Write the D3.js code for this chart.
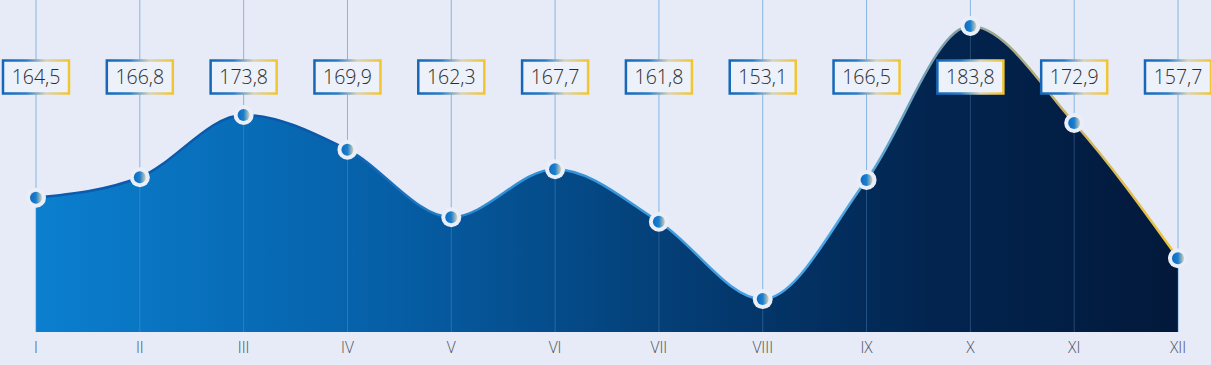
<!DOCTYPE html>
<html><head><meta charset="utf-8">
<script src="https://cdn.jsdelivr.net/npm/d3@7"></script>
<style>html,body{margin:0;padding:0;background:#e6ebf7;}svg{display:block;}</style>
</head><body>
<script>
const months = ["I","II","III","IV","V","VI","VII","VIII","IX","X","XI","XII"];
const values = [164.5,166.8,173.8,169.9,162.3,167.7,161.8,153.1,166.5,183.8,172.9,157.7];
const labels = ["164,5","166,8","173,8","169,9","162,3","167,7","161,8","153,1","166,5","183,8","172,9","157,7"];

const W = 1211, H = 365;
const svg = d3.select("body").append("svg").attr("width", W).attr("height", H);
svg.append("rect").attr("width", W).attr("height", H).attr("fill", "#e6ebf7");

const x = d3.scalePoint().domain(months).range([36, 1178]);
const y = d3.scaleLinear().domain([149.4, 183.8]).range([332, 26]);

const defs = svg.append("defs");
const ag = defs.append("linearGradient").attr("id","areaG").attr("gradientUnits","userSpaceOnUse")
  .attr("x1",36).attr("x2",1178).attr("y1",0).attr("y2",0);
[["0%","#0b7fcf"],["30%","#0660a8"],["55%","#043f77"],["78%","#022550"],["100%","#02193b"]]
  .forEach(s=>ag.append("stop").attr("offset",s[0]).attr("stop-color",s[1]));
const lg = defs.append("linearGradient").attr("id","lineG").attr("gradientUnits","userSpaceOnUse")
  .attr("x1",36).attr("x2",1178).attr("y1",0).attr("y2",0);
[["0%","#0a5cae"],["25%","#0a58a8"],["40%","#2f8fd6"],["70%","#4aa6e6"],["80%","#7f9ea8"],["90%","#c9b36a"],["100%","#f0c53a"]]
  .forEach(s=>lg.append("stop").attr("offset",s[0]).attr("stop-color",s[1]));
const bg = defs.append("linearGradient").attr("id","boxG").attr("x1","0").attr("x2","1").attr("y1","0").attr("y2","0");
[["0%","#1667b8"],["35%","#2a7cc6"],["65%","#d9d3b8"],["100%","#f2c530"]]
  .forEach(s=>bg.append("stop").attr("offset",s[0]).attr("stop-color",s[1]));
const dg = defs.append("linearGradient").attr("id","dotG").attr("x1","0").attr("x2","1").attr("y1","0").attr("y2","0");
[["0%","#0f6cc0"],["50%","#1a7fd0"],["100%","#d8d2b0"]]
  .forEach(s=>dg.append("stop").attr("offset",s[0]).attr("stop-color",s[1]));

const data = months.map((m,i)=>({m, v: values[i], l: labels[i]}));

// vertical guide lines (behind area)
svg.append("g").selectAll("line").data(data).join("line")
  .attr("x1",d=>x(d.m)).attr("x2",d=>x(d.m)).attr("y1",0).attr("y2",332)
  .attr("stroke","#86b5e2").attr("stroke-width",1);

const area = d3.area().x(d=>x(d.m)).y0(332).y1(d=>y(d.v)).curve(d3.curveMonotoneX);
const line = d3.line().x(d=>x(d.m)).y(d=>y(d.v)).curve(d3.curveMonotoneX);
svg.append("path").datum(data).attr("d",area).attr("fill","url(#areaG)");

// guide lines inside area
svg.append("g").selectAll("line").data(data).join("line")
  .attr("x1",d=>x(d.m)).attr("x2",d=>x(d.m)).attr("y1",d=>y(d.v)).attr("y2",332)
  .attr("stroke","#7fb8ee").attr("stroke-opacity",0.28).attr("stroke-width",1);

svg.append("path").datum(data).attr("d",line).attr("fill","none")
  .attr("stroke","url(#lineG)").attr("stroke-width",2.5);

// points
const pts = svg.append("g");
pts.selectAll("circle.h").data(data).join("circle").attr("class","h")
  .attr("cx",d=>x(d.m)).attr("cy",d=>y(d.v)).attr("r",10).attr("fill","#e9eef8");
pts.selectAll("circle.d").data(data).join("circle").attr("class","d")
  .attr("cx",d=>x(d.m)).attr("cy",d=>y(d.v)).attr("r",6).attr("fill","url(#dotG)");

// label boxes
const bw = 66, bh = 33, by = 60.5;
const lb = svg.append("g").selectAll("g").data(data).join("g")
  .attr("transform",d=>`translate(${x(d.m)},${by})`);
lb.append("rect").attr("x",-bw/2).attr("y",0).attr("width",bw).attr("height",bh)
  .attr("fill","#edf1fa").attr("stroke","url(#boxG)").attr("stroke-width",2.5);
lb.append("text").attr("x",0).attr("y",bh/2+7).attr("text-anchor","middle")
  .attr("font-family","'Open Sans', sans-serif").attr("font-size",19.5).attr("font-weight",300).attr("fill","#2a2c30")
  .text(d=>d.l);

// x axis labels
svg.append("g").selectAll("text").data(data).join("text")
  .attr("x",d=>x(d.m)).attr("y",353).attr("text-anchor","middle")
  .attr("font-family","'Open Sans', sans-serif").attr("font-size",15.5).attr("font-weight",300).attr("fill","#4c5159")
  .text(d=>d.m);
</script>
</body></html>
